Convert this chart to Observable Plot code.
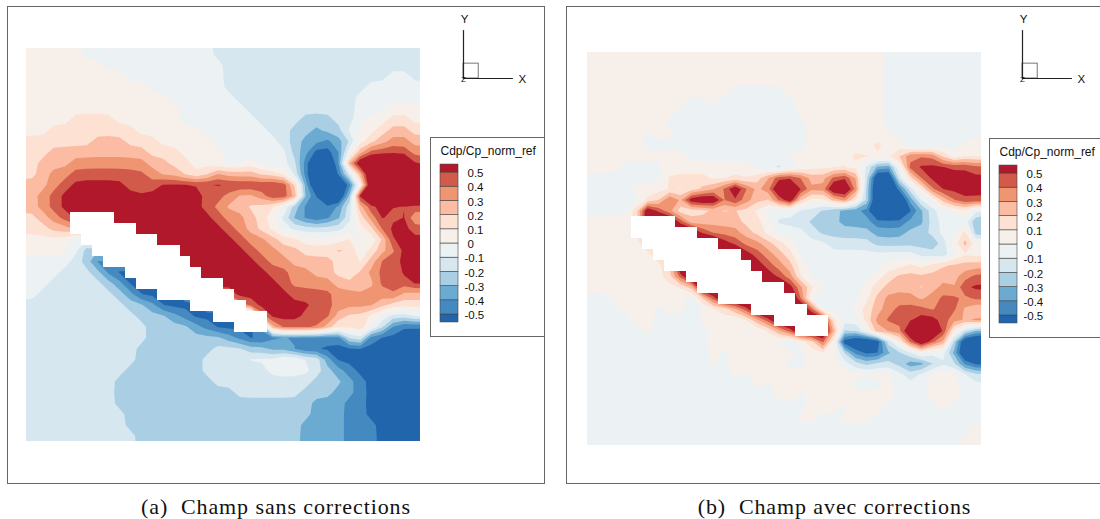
<!DOCTYPE html>
<html lang="fr">
<head>
<meta charset="utf-8">
<title>Champ Cdp/Cp_norm_ref</title>
<script src="https://cdn.jsdelivr.net/npm/d3@7"></script>
<script src="https://cdn.jsdelivr.net/npm/@observablehq/plot@0.6"></script>
<style>
html,body{margin:0;padding:0;background:#fff;width:1100px;height:519px;overflow:hidden}
#page{position:relative;width:1100px;height:519px;overflow:hidden}
.frame{position:absolute;border:1px solid #666;box-sizing:border-box;background:#fff}
.box{position:absolute;border:1px solid #666;box-sizing:border-box;background:#fff}
.cap{position:absolute;font-family:"Liberation Serif",serif;font-size:22px;line-height:20px;letter-spacing:0.9px;white-space:pre;color:#111;top:497px;transform:translateX(-50%)}
</style>
</head>
<body>
<div id="page"></div>
<script>
// Level codes, one letter per colour band, run-length by row.
// M and Z are strong peaks beyond the scale ends.
const bandLetters = ["Z","A","B","C","D","E","F","G","H","I","J","K","L","M"];
const bandValues = [-0.8,-0.55,-0.45,-0.35,-0.25,-0.15,-0.05,0.05,0.15,0.25,0.35,0.45,0.55,0.8];
const thresholds = [-2,-0.5,-0.4,-0.3,-0.2,-0.1,0,0.1,0.2,0.3,0.4,0.5];
const colors = ["#2166ac","#4489c0","#6cabd1","#aacfe5","#d7e7f0","#ecf1f4","#f7efea","#fde1d2","#fbbca3","#f09572","#d15a4a","#b2182b"];
const legendLabels = ["0.5","0.4","0.3","0.2","0.1","0","-0.1","-0.2","-0.3","-0.4","-0.5"];
const legendLevels = [0.5,0.4,0.3,0.2,0.1,0,-0.1,-0.2,-0.3,-0.4,-0.5];
const legendTitle = "Cdp/Cp_norm_ref";
const captions = ["(a)  Champ sans corrections","(b)  Champ avec corrections"];

const fieldA = [
"G5 F12 E19","G7 F11 E18","G9 F9 E15 F2 E1","G11 F7 E13 F5","G13 F6 E11 F6","G14 F6 E10 F3 G3",
"G4 H4 G6 F7 E4 D3 E2 F1 G2 H2 G1",
"G2 H8 G6 F6 E2 D2 C1 D2 F1 G2 H1 I2 H1",
"H6 I3 H3 G5 F6 E1 D1 C2 B1 C1 D1 G1 H1 I1 J2 I1",
"H2 I9 H3 G4 F6 D1 C1 A1 A1 B1 F1 I1 K4 J1",
"H1 I3 J7 I2 H2 G2 F3 G1 F1 E1 F1 E1 B1 Z2 B1 K1 M5 K1",
"H1 I1 J2 K7 J1 I2 H1 G1 H1 J1 I3 H2 G1 E1 B1 Z2 B1 E1 I1 M5",
"I2 J1 K1 L5 K1 J1 K1 L12 I1 C1 Z3 A1 E1 M5",
"I1 J1 K1 L13 K2 J1 I2 J1 L2 K1 C1 B1 Z2 C1 M6",
"I1 J1 K1 L13 K1 J1 I2 H2 G1 F1 C1 B3 C1 E1 I1 K1 L1 K3",
"H1 I1 J1 K1 L13 K1 J2 I1 H1 G1 E1 C1 B1 A1 B1 C1 E1 H1 J1 L1 K1 L1 I1",
"H2 I2 J1 L13 K1 J1 I1 H1 G1 F1 E5 F1 G1 H1 K1 L2 K1",
"G4 E1 D1 L13 K1 J2 I1 H2 G4 H1 F2 H1 L3",
"G4 F1 D1 A1 L13 K1 J2 I2 H3 I2 F1 H1 I1 J1 L2",
"F4 E1 D1 B1 A3 L11 K1 J2 I4 H2 G1 I1 K2 L2",
"F3 E3 D1 B1 A4 L10 K2 J2 I2 H1 G1 I1 J1 K1 J1 L2",
"F2 E5 D1 C1 A5 L9 K1 J4 I2 H1 I1 K3 L1",
"F1 E7 D1 C1 A6 L8 K4 J5 K1 I2",
"E9 D2 C1 A7 L7 K2 J4 I1 H3",
"E10 D3 C1 B1 A6 L4 K3 I1 H2 G1 F1 E2 F1",
"E11 D4 C1 B1 A5 K1 L4 J1 H2 I1 G1 E1 B1 A2",
"E11 D7 C1 B1 A9 E1 F1 A5",
"E10 D7 E3 D2 C2 B1 A11",
"E10 D6 E4 F3 G2 F2 C1 A8",
"E9 D7 E6 F4 E1 D1 C1 B1 A6",
"E8 D9 E9 D3 C1 B1 A5",
"E8 D11 E6 D3 C2 B1 A5",
"E8 D18 C3 B2 A5",
"E9 D17 C3 B2 A5",
"E9 D16 C4 B3 A4",
"E10 D15 C4 B3 A4"
];

const fieldB = [
"G27 F9","G27 F9","G27 F9","G13 F5 G9 F9","G9 F2 G1 F7 G8 F9","G8 F11 G8 F9","G7 F13 G7 F9",
"G5 F1 G2 F12 G8 F8",
"G5 F15 G6 H1 G2 E3 F2 G2",
"G9 F9 G6 H4 I1 K3 H1 F1 G2",
"G3 F4 G8 F1 E1 D1 E1 F1 G5 E1 C1 B1 F1 L6 K1",
"F7 H4 G4 H1 J1 L2 K1 I2 K1 L1 J1 E1 Z2 F1 H1 K1 L5",
"F4 G6 H1 I1 K1 M1 K1 I1 J1 M2 L1 J2 M2 K1 D1 Z2 B1 E1 G1 K1 L4",
"F5 G1 H1 L1 I1 M3 J1 L1 J1 I1 H1 K1 M1 H1 G2 I1 K1 H1 E1 Z3 C1 F2 I1 K1 L2",
"F4 H1 M1 K1 I1 G3 H4 G1 F1 E4 D1 C1 B3 Z3 A1 C1 E1 F2 G1 E1",
"G5 M3 K1 H1 I4 H2 G1 E3 D3 C3 B3 C2 E1 F3 C1",
"G5 M5 K1 J3 I1 H1 G1 F3 E1 D5 C3 D2 E1 F2 I1 C1",
"G6 M6 L1 K1 J2 I1 H1 G1 F3 E4 D5 C1 E1 G1 J1 G1",
"G7 M7 L1 K1 J1 I1 H1 F11 E2 D1 F1 G2",
"G8 M7 L1 K1 J1 I1 G1 F7 G2 H1 G1 H1 I4",
"G7 H1 K1 M7 L1 K1 J1 G1 F6 G1 H1 I6 J1 K1",
"G9 H1 M8 L1 J1 H1 G1 F3 G1 H1 I3 H1 I1 J1 I1 L2",
"F2 G7 E1 H1 K1 M7 J1 E2 F3 G1 I1 J3 I1 J1 K2 J1 K1",
"F3 G3 F1 G2 F2 G2 I1 K1 M5 K1 E1 F2 G1 H1 I1 J1 K3 J1 K2 I1 H1",
"F4 G2 F4 G3 F1 G1 I1 K1 M5 G1 F2 H1 J1 K3 L2 K1 J2 K1",
"F5 G1 F5 G3 F2 G1 I1 K1 M3 J1 D1 E1 G1 K1 J2 M3 L1 G1 E1 C1",
"F8 G1 F2 G6 F1 E1 F1 G1 L1 G1 Z4 E1 G1 K1 M1 K1 J1 D1 Z2",
"F11 G1 F1 G6 F1 G3 E1 B1 A2 C1 D1 E1 G1 E1 F1 C1 Z2",
"F11 G1 F1 G5 F2 G3 F1 E1 D1 E2 D1 B2 D1 E2 B1 A1",
"F13 G1 F1 G13 F1 E1 F1 G1 H1 G1 F1 E1",
"F15 G1 F1 G7 F3 G1 F3 G3 F2",
"F17 G2 F1 G8 F3 G3 F2",
"F20 G3 F1 G3 F5 G1 F3",
"F19 G2 F2 G3 F10",
"F35 G1",
"F34 G2"
];

// White staircase (the blade): one block per row, same shape in both panels.
const stairX1 = [44,44,55,66,77,99,110,131,164,187,208];
const stairX2 = [88,110,131,154,164,175,197,208,220,241,241];
const stairY1 = [164,175,186,197,208,219,230,241,252,263,274];
const stairY2 = [175,186,197,208,219,230,241,252,263,274,284];

const gridCols = 36, gridRows = 36, fieldW = 394, fieldH = 393;
const page = document.getElementById("page");
const colorScale = {type:"threshold", domain:thresholds.slice(1), range:colors};

// Rows expanded to values, with the edge cells repeated once outside the visible field
// so the contours reach its square corners.
function decode(rows){
  const grid = rows.map(r => {
    const out = [];
    for (const run of r.split(" ")) {
      const v = bandValues[bandLetters.indexOf(run[0])];
      for (let k = 0; k < +run.slice(1); k++) out.push(v);
    }
    return [out[0], ...out, out[out.length-1]];
  });
  return [grid[0], ...grid, grid[grid.length-1]].flat();
}
function place(node, left, top){
  node.style.position = "absolute"; node.style.left = left+"px"; node.style.top = top+"px";
  page.appendChild(node);
}

function drawField(rows, left, top){
  const values = decode(rows);
  const cw = fieldW/gridCols, ch = fieldH/gridRows;
  const fig = Plot.plot({
    width:fieldW, height:fieldH, margin:0,
    x:{axis:null, domain:[0,fieldW], range:[0,fieldW]},
    y:{axis:null, domain:[0,fieldH], range:[0,fieldH]},
    color:colorScale,
    style:{background:"transparent"},
    marks:[
      Plot.contour(values,{
        width:gridCols+2, height:gridRows+2, x1:-cw, x2:fieldW+cw, y1:-ch, y2:fieldH+ch,
        fill:d=>d, thresholds, smooth:true, blur:0.05, stroke:"none"
      }),
      Plot.rect(stairX1,{x1:stairX1, x2:stairX2, y1:stairY1, y2:stairY2, fill:"white"})
    ]
  });
  place(fig,left,top);
}

function drawLegend(left, top, w){
  const box = document.createElement("div");
  box.className = "box";
  box.style.left = left+"px"; box.style.top = top+"px"; box.style.width = w+"px"; box.style.height = "200px";
  page.appendChild(box);
  const lo = [-0.556,...legendLevels.slice().reverse()];
  const hi = [...legendLevels.slice().reverse(),0.556];
  const mid = lo.map((d,i)=>(d+hi[i])/2);
  const fig = Plot.plot({
    width:w-2, height:198, margin:0,
    x:{axis:null, domain:[0,1], range:[9,27]},
    y:{axis:null, domain:[0.5,-0.5], range:[34,176]},
    color:colorScale,
    style:{background:"transparent", fontFamily:"'Liberation Sans',Arial,sans-serif"},
    marks:[
      Plot.rect(mid,{x1:0, x2:1, y1:lo, y2:hi, fill:mid, stroke:"#444", strokeWidth:0.6}),
      Plot.text(legendLabels,{y:legendLevels, text:d=>d, textAnchor:"start",
        dy:1, fontSize:11.5, fill:"#111", lineAnchor:"middle",
        x:legendLabels.map(d=>d.startsWith("-")?1.33:1.5)}),
      Plot.text([legendTitle],{frameAnchor:"top-left", dx:9, dy:8, fontSize:12, fill:"#111", lineAnchor:"top", text:d=>d})
    ]
  });
  place(fig,left+1,top+1);
}

function drawTriad(left, top){
  const axisX = [{x:0,y:0},{x:1,y:0}];
  const axisY = [{x:0,y:0},{x:0,y:1}];
  const fig = Plot.plot({
    width:90, height:80, margin:0,
    x:{axis:null, domain:[0,1], range:[8,57]},
    y:{axis:null, domain:[0,1], range:[68,20]},
    style:{background:"transparent", fontFamily:"'Liberation Sans',Arial,sans-serif"},
    marks:[
      Plot.rect([0],{x1:0, x2:0.31, y1:0, y2:0.31, fill:"none", stroke:"#555", strokeWidth:0.8}),
      Plot.line(axisX,{x:"x", y:"y", stroke:"#222", strokeWidth:1.2}),
      Plot.line(axisY,{x:"x", y:"y", stroke:"#222", strokeWidth:1.2}),
      Plot.text(["X"],{x:[1.2], y:[-0.01], text:d=>d, fontSize:11.5, fill:"#111"}),
      Plot.text(["Y"],{x:[0.02], y:[1.23], text:d=>d, fontSize:11.5, fill:"#111"}),
      Plot.text(["Z"],{x:[0], y:[-0.01], text:d=>d, fontSize:8, fill:"#111"})
    ]
  });
  place(fig,left,top);
}

function frame(left, top, w, h){
  const f = document.createElement("div");
  f.className = "frame";
  f.style.left = left+"px"; f.style.top = top+"px"; f.style.width = w+"px"; f.style.height = h+"px";
  page.appendChild(f);
}

frame(7,6,538,478);
frame(566,6,560,478);
drawField(fieldA,26,48);
drawField(fieldB,587,52);
drawTriad(455,10);
drawTriad(1014,10);
drawLegend(430,137,115);
drawLegend(989,138,130);

captions.forEach((t,i)=>{
  const c = document.createElement("div");
  c.className = "cap"; c.textContent = t;
  c.style.left = (i===0?276:834.5)+"px";
  page.appendChild(c);
});
</script>
</body>
</html>
